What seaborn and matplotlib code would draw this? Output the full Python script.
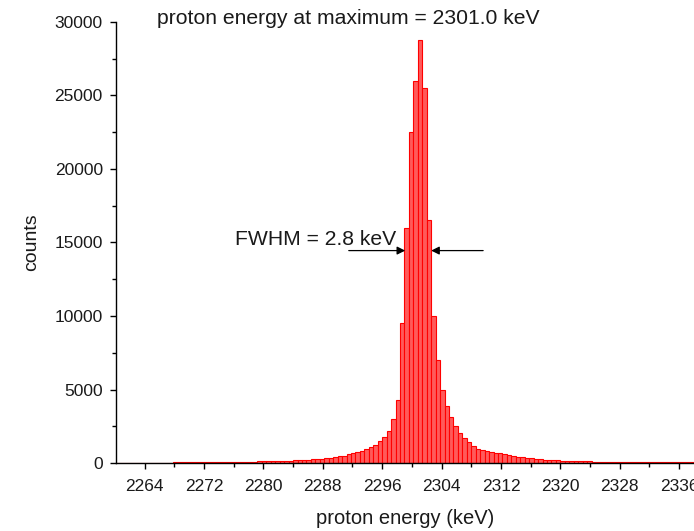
import numpy as np
import pandas as pd
import matplotlib
matplotlib.use("Agg")
import matplotlib.pyplot as plt
import seaborn as sns
from matplotlib.ticker import MultipleLocator

# ---- data ----
first_center = 2260.3    # keV, centre of first bin
bin_width = 0.6          # keV
counts = [
    18, 19, 20, 20, 21, 22, 23, 25, 26, 28, 30, 32, 34, 36, 39, 42,
    45, 47, 49, 51, 54, 57, 60, 63, 66, 70, 73, 77, 81, 85, 90, 96,
    104, 112, 120, 128, 136, 145, 155, 168, 182, 200, 215, 230, 245, 265, 290, 320,
    355, 400, 450, 510, 580, 660, 740, 830, 930, 1060, 1250, 1500, 1800, 2200, 3000, 4300,
    9500, 16000, 22500, 26000, 28800, 25500, 16500, 10000, 7000, 5000,
    3900, 3100, 2500, 2050, 1700, 1450, 1150, 950, 860, 800, 760, 710, 670, 610, 550, 490,
    430, 390, 350, 320, 290, 260, 230, 205, 190, 178, 166, 155, 145, 135, 125, 115,
    107, 100, 95, 90, 85, 80, 76, 72, 68, 64, 61, 58, 55, 52, 50, 48,
    47, 46, 45, 44, 43, 42, 41, 40,
]
centers = first_center + bin_width * np.arange(len(counts))
edges = np.append(centers - bin_width / 2, centers[-1] + bin_width / 2)

title_text = "proton energy at maximum = 2301.0 keV"
fwhm_text = "FWHM = 2.8 keV"
fwhm_level = 14450
fwhm_left = 2299.1
fwhm_right = 2302.6
fwhm_left_tail = 2291.5
fwhm_right_tail = 2309.6

df = pd.DataFrame({"energy": centers, "counts": counts})

# ---- figure ----
sns.set_style("white")
plt.rcParams["font.family"] = ["Liberation Sans", "DejaVu Sans"]

fig = plt.figure(figsize=(6.94, 5.31), dpi=100)
ax = fig.add_axes([116 / 694, 1 - 463 / 531, 1 - 116 / 694, (463 - 22) / 531])

sns.histplot(data=df, x="energy", weights="counts", bins=list(edges), ax=ax,
             color="#ff5a5a", alpha=1.0, edgecolor="#ff0000", linewidth=0.8)

ax.set_xlim(2260.15, 2338.0)
ax.set_ylim(0, 30000)

ax.xaxis.set_minor_locator(MultipleLocator(4))
ax.yaxis.set_major_locator(MultipleLocator(5000))
ax.yaxis.set_minor_locator(MultipleLocator(2500))
ax.set_xticks(np.arange(2264, 2337, 8))

for s in ["top", "right"]:
    ax.spines[s].set_visible(False)
for s in ["left", "bottom"]:
    ax.spines[s].set_color("black")
    ax.spines[s].set_linewidth(1.0)
    ax.spines[s].set_zorder(5)

ax.tick_params(axis="both", which="major", direction="out", length=4.5, width=1,
               color="black", labelsize=12.5, labelcolor="#1a1a1a",
               bottom=True, left=True)
ax.tick_params(axis="both", which="minor", direction="out", length=3, width=1,
               color="black", bottom=True, left=True)
ax.tick_params(axis="x", which="major", pad=7)
ax.tick_params(axis="y", which="major", pad=5)

ax.set_xlabel("proton energy (keV)", fontsize=14.5, labelpad=11, color="#1a1a1a")
ax.set_ylabel("counts", fontsize=14, labelpad=10, color="#1a1a1a")

fig.text(348 / 694, 1 - 24 / 531, title_text, ha="center", va="baseline",
         fontsize=15.2, color="#1a1a1a")
fig.text(235 / 694, 1 - 245 / 531, fwhm_text, ha="left", va="baseline",
         fontsize=15.2, color="#1a1a1a")

arrow_kw = dict(arrowstyle="-|>", color="black", lw=0.9,
                mutation_scale=12, shrinkA=0, shrinkB=0)
ax.annotate("", xy=(fwhm_left, fwhm_level), xytext=(fwhm_left_tail, fwhm_level),
            arrowprops=arrow_kw)
ax.annotate("", xy=(fwhm_right, fwhm_level), xytext=(fwhm_right_tail, fwhm_level),
            arrowprops=arrow_kw)

fig.savefig("out.png", dpi=100)
